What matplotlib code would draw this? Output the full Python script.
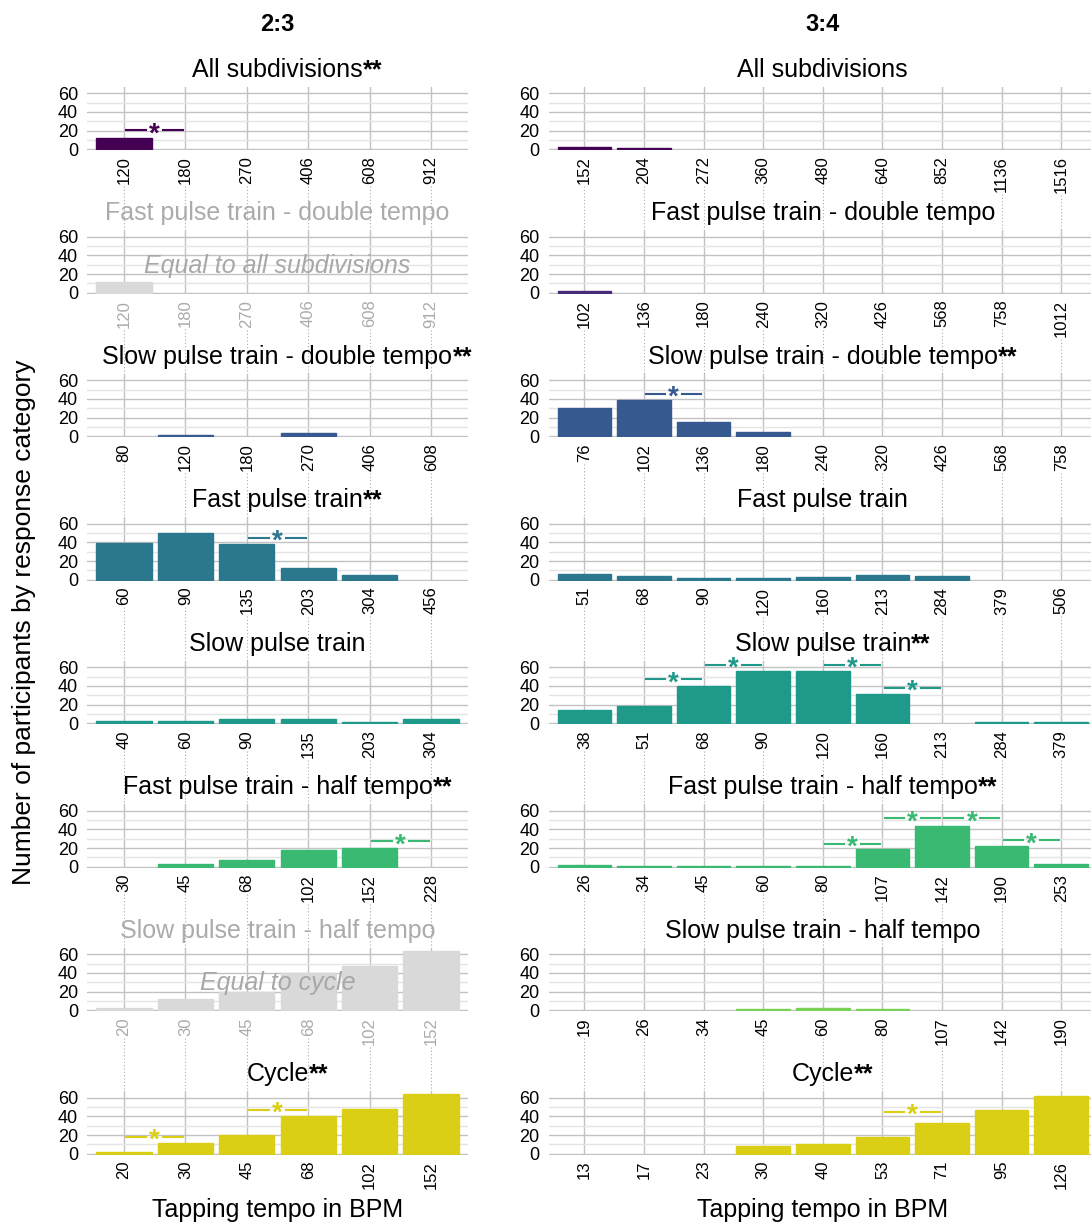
"""Tapping tempo responses per category, 2:3 and 3:4 polyrhythms."""

import matplotlib

matplotlib.use("Agg")
import matplotlib.pyplot as plt
from matplotlib import transforms
from matplotlib.lines import Line2D

plt.rcParams["font.family"] = ["Liberation Sans", "DejaVu Sans"]

# ---------------------------------------------------------------- data
TITLES = [
    "All subdivisions",
    "Fast pulse train - double tempo",
    "Slow pulse train - double tempo",
    "Fast pulse train",
    "Slow pulse train",
    "Fast pulse train - half tempo",
    "Slow pulse train - half tempo",
    "Cycle",
]

# 2:3
TICKS_23 = [
    [120, 180, 270, 406, 608, 912],
    [120, 180, 270, 406, 608, 912],
    [80, 120, 180, 270, 406, 608],
    [60, 90, 135, 203, 304, 456],
    [40, 60, 90, 135, 203, 304],
    [30, 45, 68, 102, 152, 228],
    [20, 30, 45, 68, 102, 152],
    [20, 30, 45, 68, 102, 152],
]
COUNTS_23 = [
    [12, 0, 0, 0, 0, 0],
    [12, 0, 0, 0, 0, 0],
    [0, 1, 0, 4, 0, 0],
    [39, 50, 38, 13, 5, 0],
    [3, 3, 5, 5, 1, 5],
    [0, 3, 7, 18, 20, 0],
    [2, 12, 20, 40, 48, 64],
    [2, 12, 20, 40, 48, 64],
]
STARRED_23 = [True, False, True, True, False, True, False, True]
# (left bar index, bracket height)
SIG_23 = [
    [(0, 20.5)],
    [],
    [],
    [(2, 45)],
    [],
    [(4, 27.5)],
    [],
    [(0, 18), (2, 47)],
]
NOTES_23 = [None, "Equal to all subdivisions", None, None, None, None,
            "Equal to cycle", None]

# 3:4
TICKS_34 = [
    [152, 204, 272, 360, 480, 640, 852, 1136, 1516],
    [102, 136, 180, 240, 320, 426, 568, 758, 1012],
    [76, 102, 136, 180, 240, 320, 426, 568, 758],
    [51, 68, 90, 120, 160, 213, 284, 379, 506],
    [38, 51, 68, 90, 120, 160, 213, 284, 379],
    [26, 34, 45, 60, 80, 107, 142, 190, 253],
    [19, 26, 34, 45, 60, 80, 107, 142, 190],
    [13, 17, 23, 30, 40, 53, 71, 95, 126],
]
COUNTS_34 = [
    [2, 1, 0, 0, 0, 0, 0, 0, 0],
    [2, 0, 0, 0, 0, 0, 0, 0, 0],
    [30, 39, 15, 5, 0, 0, 0, 0, 0],
    [6, 4, 2, 2, 3, 5, 4, 0, 0],
    [14, 19, 40, 56, 56, 31, 0, 1, 1],
    [2, 1, 1, 1, 1, 19, 44, 22, 3],
    [0, 0, 0, 1, 2, 1, 0, 0, 0],
    [0, 0, 0, 8, 11, 18, 33, 47, 62],
]
STARRED_34 = [False, False, True, False, True, True, False, True]
SIG_34 = [
    [],
    [],
    [(1, 45.5)],
    [],
    [(1, 47), (2, 63), (4, 63), (5, 38)],
    [(4, 24.7), (5, 52.2), (6, 52.2), (7, 28.6)],
    [],
    [(5, 45)],
]
NOTES_34 = [None] * 8

ROW_COLORS = ["#440154", "#472A7A", "#365A8F", "#2A778E",
              "#1F998A", "#3AB973", "#78D152", "#DBCF15"]

# ---------------------------------------------------------------- layout
W, H = 1091, 1226
COL_X = [(87, 468), (548.6, 1097)]   # right column runs off the image edge
ZERO_Y0 = 149.3
ROW_STEP = 143.5
PX_PER_UNIT = 0.933
Y_LO, Y_HI = -1.0, 67.2

GREY_BAR = "#D9D9D9"
GREY_TEXT = "#ABABAB"
GRID_MAJOR = "#C2C2C2"
GRID_MINOR = "#E4E4E4"
STAR_FS = 20

fig = plt.figure(figsize=(W / 100, H / 100), dpi=100)


def add_panel(col, row):
    x0, x1 = COL_X[col]
    zero = ZERO_Y0 + ROW_STEP * row
    bottom = zero - Y_LO * PX_PER_UNIT
    top = zero - Y_HI * PX_PER_UNIT
    return fig.add_axes([x0 / W, 1 - bottom / H, (x1 - x0) / W, (bottom - top) / H])


def draw_panel(ax, ticks, counts, title, starred, sig, note, color):
    n = len(ticks)
    greyed = note is not None
    bar_color = GREY_BAR if greyed else color
    # same-colour outline so small counts stay visible, none for empty bins
    ax.bar(range(n), counts, width=0.9, color=bar_color, edgecolor=bar_color,
           linewidth=[1.0 if c > 0 else 0 for c in counts], zorder=2)

    ax.set_xlim(-0.6, n - 0.4)
    ax.set_ylim(Y_LO, Y_HI)
    ax.set_xticks(range(n))
    ax.set_xticklabels([str(t) for t in ticks], rotation=90, fontsize=12,
                       color=GREY_TEXT if greyed else "black")
    ax.set_yticks([0, 20, 40, 60])
    ax.set_yticks([10, 30, 50], minor=True)
    ax.tick_params(axis="both", which="both", length=0)
    ax.tick_params(axis="x", pad=4.3)
    ax.tick_params(axis="y", pad=6.5, labelsize=13)
    ax.set_axisbelow(True)
    ax.grid(axis="y", which="major", color=GRID_MAJOR, lw=1.0)
    ax.grid(axis="y", which="minor", color=GRID_MINOR, lw=1.0)
    ax.grid(axis="x", which="major", color=GRID_MAJOR, lw=1.0)
    for spine in ax.spines.values():
        spine.set_visible(False)

    title_txt = ax.annotate(
        title, xy=(0.5, 1), xycoords="axes fraction", xytext=(0, 7),
        textcoords="offset points", ha="center", va="baseline", fontsize=18,
        color=GREY_TEXT if greyed else "black",
    )
    if starred:
        ax.annotate("**", xy=(1, 0), xycoords=title_txt, ha="left",
                    va="bottom", fontsize=18, fontweight="bold")

    if note:
        ax.text(0.5, 29, note, transform=transforms.blended_transform_factory(
            ax.transAxes, ax.transData), ha="center", va="center",
            fontsize=18, style="italic", color="#A8A8A8", zorder=3)

    star_tr = transforms.offset_copy(ax.transData, fig=fig,
                                     y=-0.4 * STAR_FS, units="points")
    for i, yv in sig:
        ax.plot([i + 0.04, i + 0.36], [yv, yv], color=color, lw=1.5, zorder=3)
        ax.plot([i + 0.64, i + 0.96], [yv, yv], color=color, lw=1.5, zorder=3)
        ax.text(i + 0.5, yv, "*", transform=star_tr, ha="center",
                va="baseline", fontsize=STAR_FS, fontweight="bold",
                color=color, zorder=3)


columns = [
    (TICKS_23, COUNTS_23, STARRED_23, SIG_23, NOTES_23),
    (TICKS_34, COUNTS_34, STARRED_34, SIG_34, NOTES_34),
]
axes = [[None] * 8 for _ in range(2)]
for col, (ticks, counts, starred, sig, notes) in enumerate(columns):
    for row in range(8):
        ax = add_panel(col, row)
        draw_panel(ax, ticks[row], counts[row], TITLES[row], starred[row],
                   sig[row], notes[row], ROW_COLORS[row])
        axes[col][row] = ax

# column headers and axis titles
for col, label in enumerate(["2:3", "3:4"]):
    cx = (COL_X[col][0] + COL_X[col][1]) / 2
    fig.text(cx / W, 1 - 31 / H, label, ha="center", va="baseline",
             fontsize=17, fontweight="bold")
    fig.text(cx / W, 1 - 1217 / H, "Tapping tempo in BPM", ha="center",
             va="baseline", fontsize=18)
fig.text(24 / W, 1 - 622 / H, "Number of participants by response category",
         rotation=90, ha="center", va="center", fontsize=19)

# dotted guides from each tick label down to the next panel
fig.canvas.draw()
renderer = fig.canvas.get_renderer()
for col in range(2):
    for row in range(7):
        ax = axes[col][row]
        next_top = axes[col][row + 1].get_position().y1 * H
        for i, lab in enumerate(ax.get_xticklabels()):
            bb = lab.get_window_extent(renderer)
            x_disp = ax.transData.transform((i, 0))[0]
            fig.add_artist(Line2D([x_disp / W, x_disp / W],
                                  [(bb.y0 - 2) / H, next_top / H],
                                  transform=fig.transFigure, ls=(0, (1, 2)),
                                  color="#AAAAAA", lw=0.8, zorder=0))

fig.savefig("out.png", dpi=100)
